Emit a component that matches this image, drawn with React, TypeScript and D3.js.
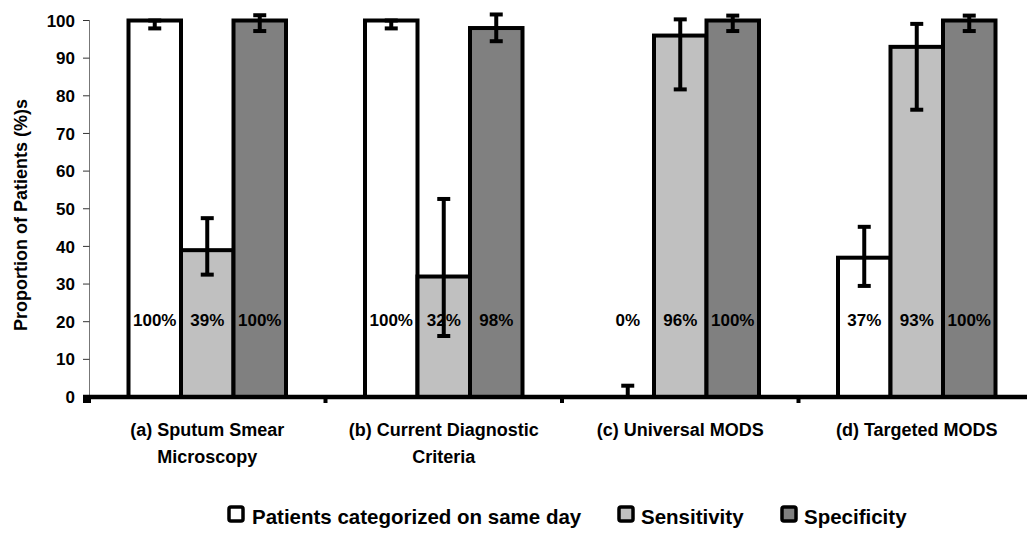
import React from "react";
import * as d3 from "d3";

// Diagnostic approaches on the x axis
const categories = [
  ["(a) Sputum Smear", "Microscopy"],
  ["(b) Current Diagnostic", "Criteria"],
  ["(c) Universal MODS"],
  ["(d) Targeted MODS"],
];
const categoryKeys = ["a", "b", "c", "d"];

// Series shown in each group
const seriesNames = ["Patients categorized on same day", "Sensitivity", "Specificity"];
const seriesColors = ["#ffffff", "#c0c0c0", "#808080"];

// Point estimates (%) per series, one per category
const sameDay = [100, 100, 0, 37];
const sensitivity = [39, 32, 96, 93];
const specificity = [100, 98, 100, 100];

// 95% confidence limits (%) per series
const sameDayLow = [97.9, 97.9, 0, 29.5];
const sameDayHigh = [100, 100, 3, 45.2];
const sensitivityLow = [32.5, 16.2, 81.7, 76.3];
const sensitivityHigh = [47.5, 52.6, 100.3, 99.1];
const specificityLow = [97.2, 94.5, 97.2, 97.2];
const specificityHigh = [101.4, 101.6, 101.3, 101.3];

const yTicks = [0, 10, 20, 30, 40, 50, 60, 70, 80, 90, 100];

const values = [sameDay, sensitivity, specificity];
const lows = [sameDayLow, sensitivityLow, specificityLow];
const highs = [sameDayHigh, sensitivityHigh, specificityHigh];

const W = 1027;
const H = 535;
const FONT = "'Liberation Sans', Arial, sans-serif";

export default function App() {
  const x = d3.scaleBand<string>().domain(categoryKeys).range([89, 1035]).padding(0);
  const bw = x.bandwidth();
  const barW = 52.5;
  const xs = d3
    .scaleBand<string>()
    .domain(seriesNames)
    .range([bw / 2 - (barW * 3) / 2, bw / 2 + (barW * 3) / 2])
    .padding(0);
  const y = d3.scaleLinear().domain([0, 100]).range([397, 20.5]);

  // legend swatch and label positions
  const legendBoxX = [229, 619, 782];
  const legendTextX = [252, 641, 804];

  return (
    <svg
      width={W}
      height={H}
      style={{ position: "absolute", left: 0, top: 0, background: "#fff" }}
      fontFamily={FONT}
      fontWeight="bold"
    >
      <rect width={W} height={H} fill="#fff" />

      {/* y axis */}
      <line x1={89.5} x2={89.5} y1={y(100)} y2={y(0)} stroke="#777" strokeWidth={1} />
      {yTicks.map((t) => (
        <g key={t}>
          <line x1={83} x2={89.5} y1={y(t)} y2={y(t)} stroke="#333" strokeWidth={1} />
          <text x={75} y={y(t)} dy="0.36em" textAnchor="end" fontSize={17} fill="#000">
            {t}
          </text>
        </g>
      ))}
      <text
        transform={`translate(21,215) rotate(-90)`}
        textAnchor="middle"
        dy="0.35em"
        fontSize={18}
        fill="#000"
      >
        Proportion of Patients (%)s
      </text>

      {/* bars */}
      {categoryKeys.map((c, ci) => (
        <g key={c} transform={`translate(${x(c)},0)`}>
          {seriesNames.map((s, si) => {
            const v = values[si][ci];
            const bx = xs(s)!;
            return (
              <g key={s}>
                {v > 0 && (
                  <rect
                    x={bx}
                    y={y(v)}
                    width={barW}
                    height={y(0) - y(v)}
                    fill={seriesColors[si]}
                    stroke="#000"
                    strokeWidth={4}
                  />
                )}
              </g>
            );
          })}
          {seriesNames.map((s, si) => {
            const cx = xs(s)! + barW / 2;
            const lo = lows[si][ci];
            const hi = highs[si][ci];
            return (
              <g key={s} stroke="#000" strokeWidth={4}>
                <line x1={cx} x2={cx} y1={y(lo)} y2={y(hi)} />
                <line x1={cx - 6.5} x2={cx + 6.5} y1={y(hi)} y2={y(hi)} />
                {lo > 0 && <line x1={cx - 6.5} x2={cx + 6.5} y1={y(lo)} y2={y(lo)} />}
              </g>
            );
          })}
          {seriesNames.map((s, si) => (
            <text
              key={s}
              x={xs(s)! + barW / 2}
              y={y(20.6)}
              dy="0.36em"
              textAnchor="middle"
              fontSize={17}
              fill="#000"
            >
              {`${values[si][ci]}%`}
            </text>
          ))}
        </g>
      ))}

      {/* x axis */}
      <line x1={83} x2={W} y1={y(0)} y2={y(0)} stroke="#000" strokeWidth={4.5} />
      {categoryKeys.map((c) => (
        <rect key={c} x={x(c)! - 2} y={y(0)} width={4} height={6} fill="#000" />
      ))}
      <rect x={83} y={y(0)} width={6} height={6} fill="#000" />

      {categoryKeys.map((c, ci) => (
        <text key={c} textAnchor="middle" fontSize={18} fill="#000">
          {categories[ci].map((line, li) => (
            <tspan key={li} x={x(c)! + bw / 2} y={436 + li * 27}>
              {line}
            </tspan>
          ))}
        </text>
      ))}

      {/* legend */}
      {seriesNames.map((s, si) => (
        <g key={s}>
          <rect
            x={legendBoxX[si]}
            y={507}
            width={14}
            height={14}
            rx={2}
            fill={seriesColors[si]}
            stroke="#000"
            strokeWidth={3.5}
          />
          <text x={legendTextX[si]} y={524} fontSize={20.5} fill="#000">
            {s}
          </text>
        </g>
      ))}
    </svg>
  );
}
